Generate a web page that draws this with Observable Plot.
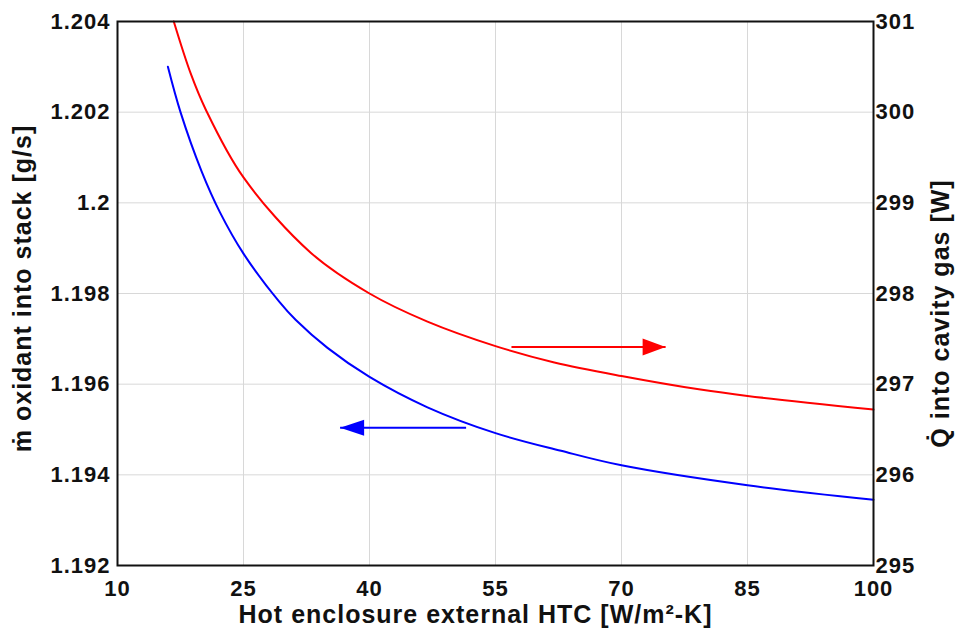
<!DOCTYPE html>
<html>
<head>
<meta charset="utf-8">
<script src="https://cdn.jsdelivr.net/npm/d3@7"></script>
<script src="https://cdn.jsdelivr.net/npm/@observablehq/plot@0.6"></script>
<style>
  html, body { margin: 0; padding: 0; background: #fff; }
</style>
</head>
<body>
<div id="chart"></div>
<script>
// ---- data ----
const xTicks = [10, 25, 40, 55, 70, 85, 100];
const leftTicks = [1.192, 1.194, 1.196, 1.198, 1.2, 1.202, 1.204];
const rightTicks = [295, 296, 297, 298, 299, 300, 301];

// oxidant mass flow (left axis, g/s)
const blueX = [16, 17.5, 20, 22.2, 25, 29.25, 31.2, 35, 40, 46.9, 55, 62.8, 70, 85, 100];
const blueY = [1.2030, 1.2020, 1.2007, 1.19979, 1.19888, 1.19782, 1.19742, 1.19680, 1.19616, 1.19549, 1.19492, 1.19453, 1.19421, 1.19377, 1.19345];

// heat into cavity gas (right axis, W)
const redX = [16.7, 18.7, 20.5, 25, 33, 40, 46.9, 55, 62, 70, 79.4, 85, 100];
const redY = [301.0, 300.43, 300.03, 299.28, 298.45, 298.0, 297.69, 297.42, 297.24, 297.09, 296.94, 296.87, 296.72];

// annotation arrows
const redArrowX = [56.9, 75.25];   // from, to (tip)
const redArrowY = 297.41;          // W
const blueArrowX = [51.5, 36.5];   // from, to (tip)
const blueArrowY = 1.19504;        // g/s

const xTitle = "Hot enclosure external HTC [W/m²-K]";
const leftTitle = "ṁ oxidant into stack [g/s]";
const rightTitle = "Q̇ into cavity gas [W]";

// map right-axis values (W) onto the left-axis scale
const toLeft = w => 1.192 + (w - 295) * 0.002;
const fromLeft = v => Math.round((v - 1.192) / 0.002 + 295);

const blue = blueX.map((x, i) => ({x, y: blueY[i]}));
const red = redX.map((x, i) => ({x, y: toLeft(redY[i])}));

const headRight = {draw(ctx) { ctx.moveTo(0, 0); ctx.lineTo(-23, -8.5); ctx.lineTo(-23, 8.5); ctx.closePath(); }};
const headLeft = {draw(ctx) { ctx.moveTo(0, 0); ctx.lineTo(24, -8); ctx.lineTo(24, 8); ctx.closePath(); }};

const tickFont = {fontSize: 22, fontWeight: "bold"};

const chart = Plot.plot({
  width: 956,
  height: 639,
  marginLeft: 117,
  marginRight: 83,
  marginTop: 21,
  marginBottom: 74,
  style: {fontFamily: "'Liberation Sans', Arial, Helvetica, sans-serif", color: "#111", letterSpacing: "1px", background: "#fff"},
  x: {domain: [10, 100]},
  y: {domain: [1.192, 1.204]},
  marks: [
    Plot.gridX(xTicks, {stroke: "#d8d8d8", strokeOpacity: 1, strokeWidth: 1}),
    Plot.gridY(leftTicks, {stroke: "#d8d8d8", strokeOpacity: 1, strokeWidth: 1}),
    Plot.axisX(xTicks, {tickSize: 0, tickPadding: 15, label: null, ...tickFont}),
    Plot.axisY(leftTicks, {anchor: "left", tickSize: 0, tickPadding: 7, label: null, tickFormat: d => String(+d.toFixed(3)), ...tickFont}),
    Plot.axisY(rightTicks.map(toLeft), {anchor: "right", tickSize: 0, tickPadding: 2, label: null, tickFormat: d => String(fromLeft(d)), ...tickFont}),
    Plot.line(blue, {x: "x", y: "y", stroke: "#0000ff", strokeWidth: 2, curve: "catmull-rom"}),
    Plot.line(red, {x: "x", y: "y", stroke: "#ff0000", strokeWidth: 2, curve: "catmull-rom"}),
    Plot.link([0], {x1: () => redArrowX[0], x2: () => redArrowX[1], y1: () => toLeft(redArrowY), y2: () => toLeft(redArrowY), stroke: "#ff0000", strokeWidth: 2}),
    Plot.dot([0], {x: () => redArrowX[1], y: () => toLeft(redArrowY), symbol: headRight, fill: "#ff0000", stroke: "none"}),
    Plot.link([0], {x1: () => blueArrowX[0], x2: () => blueArrowX[1], y1: () => blueArrowY, y2: () => blueArrowY, stroke: "#0000ff", strokeWidth: 2}),
    Plot.dot([0], {x: () => blueArrowX[1], y: () => blueArrowY, symbol: headLeft, fill: "#0000ff", stroke: "none"}),
    Plot.frame({stroke: "#111", strokeWidth: 2}),
    Plot.text([xTitle], {frameAnchor: "bottom", textAnchor: "middle", dx: -20, dy: 57, fontSize: 25, fontWeight: "bold", fill: "#111"}),
    Plot.text([leftTitle], {frameAnchor: "left", textAnchor: "middle", dx: -95, dy: -5, rotate: -90, fontSize: 25, fontWeight: "bold", fill: "#111"}),
    Plot.text([rightTitle], {frameAnchor: "right", textAnchor: "middle", dx: 67, dy: 20, rotate: -90, fontSize: 25, fontWeight: "bold", fill: "#111"})
  ]
});
document.getElementById("chart").appendChild(chart);
</script>
</body>
</html>
